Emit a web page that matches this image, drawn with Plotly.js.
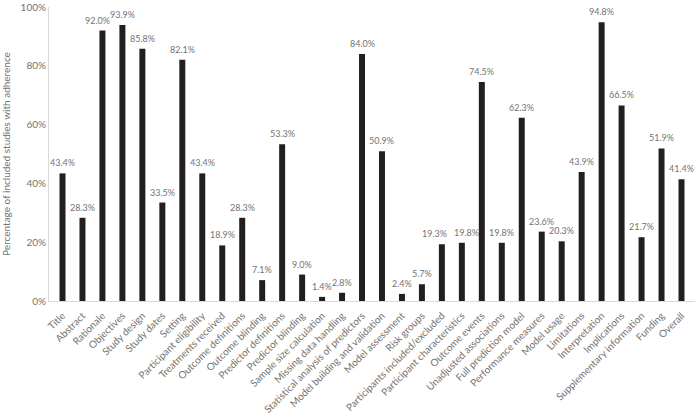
<!DOCTYPE html>
<html><head><meta charset="utf-8">
<script src="https://cdn.plot.ly/plotly-3.0.1.min.js"></script>
<style>html,body{margin:0;padding:0;background:#fff}#chart{width:698px;height:416px}</style>
</head><body><div id="chart"></div>
<script>
var categories = ["Title","Abstract","Rationale","Objectives","Study design","Study dates","Setting","Participant eligibility","Treatments received","Outcome definitions","Outcome blinding","Predictor definitions","Predictor blinding","Sample size calculation","Missing data handling","Statistical analysis of predictors","Model building and validation","Model assessment","Risk groups","Participants included/excluded","Participant characteristics","Outcome events","Unadjusted associations","Full prediction model","Performance measures","Model usage","Limitations","Interpretation","Implications","Supplementary information","Funding","Overall"];
var adherence = [43.4,28.3,92.0,93.9,85.8,33.5,82.1,43.4,18.9,28.3,7.1,53.3,9.0,1.4,2.8,84.0,50.9,2.4,5.7,19.3,19.8,74.5,19.8,62.3,23.6,20.3,43.9,94.8,66.5,21.7,51.9,41.4];
var yTicks = [0,20,40,60,80,100];
var yTickLabels = yTicks.map(function(v){return v+"%";});

var FONT = "Lato, 'Open Sans', sans-serif";
var GREY = "#737373";
// small horizontal nudges of crowded value labels (pixels), as in the original
var labelNudge = {2: -5, 19: -7, 20: 5};

var trace = {
  type: "bar",
  x: categories,
  y: adherence,
  marker: {color: "#231f20"},
  hoverinfo: "skip"
};
var annotations = categories.map(function(c, i){
  return {
    x: c, y: adherence[i], xref: "x", yref: "y",
    text: adherence[i].toFixed(1) + "%",
    showarrow: false, yanchor: "bottom", xanchor: "center",
    yshift: 4, xshift: labelNudge[i] || 0,
    borderpad: 0,
    font: {family: FONT, size: 9, color: GREY}
  };
});
var layout = {
  width: 698, height: 416,
  margin: {l: 49, r: 3, t: 7, b: 115},
  paper_bgcolor: "#fff", plot_bgcolor: "#fff",
  bargap: 0.7,
  showlegend: false,
  font: {family: FONT, color: GREY},
  annotations: annotations,
  xaxis: {
    tickangle: -45,
    tickfont: {size: 10, color: GREY},
    ticklabelstandoff: 4,
    showline: true, linecolor: "#d9d9d9", linewidth: 1,
    ticks: "", showgrid: false, automargin: false
  },
  yaxis: {
    range: [0, 100],
    tickvals: yTicks, ticktext: yTickLabels,
    tickfont: {size: 10, color: GREY},
    showline: true, linecolor: "#d9d9d9", linewidth: 1,
    showgrid: false, zeroline: false, ticks: "",
    title: {text: "Percentage of included studies with adherence", font: {size: 10, color: GREY}, standoff: 10},
    automargin: false
  }
};
Plotly.newPlot("chart", [trace], layout, {displayModeBar: false, staticPlot: true});
</script></body></html>
